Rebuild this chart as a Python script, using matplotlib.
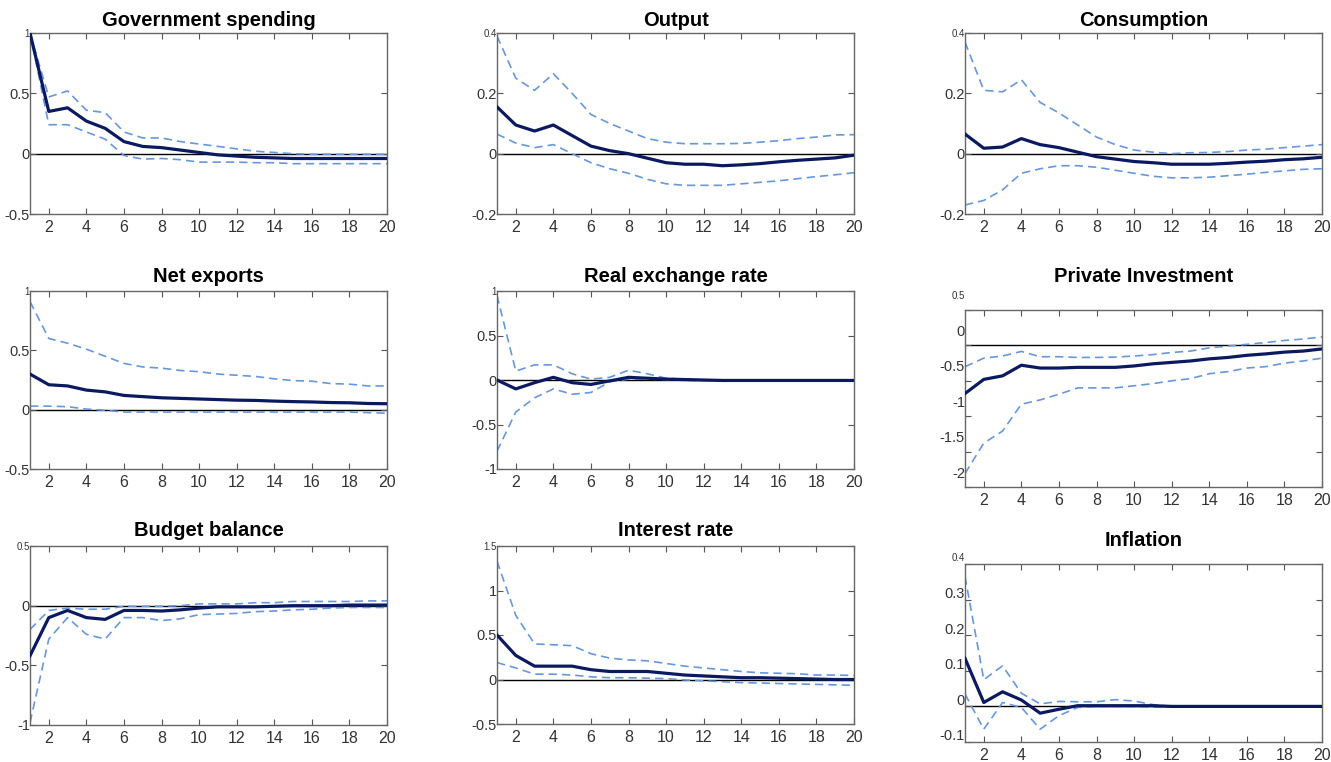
import numpy as np
import matplotlib.pyplot as plt
import matplotlib.transforms as mtransforms

plt.rcParams['font.family'] = ['Liberation Sans', 'DejaVu Sans']

horizons = np.arange(1, 21)

titles = ['Government spending', 'Output', 'Consumption',
          'Net exports', 'Real exchange rate', 'Private Investment',
          'Budget balance', 'Interest rate', 'Inflation']

# impulse responses: median, upper and lower bands
gov_mid = [1.0, 0.35, 0.38, 0.27, 0.21, 0.10, 0.06, 0.05, 0.03, 0.01,
           -0.01, -0.02, -0.03, -0.035, -0.04, -0.04, -0.04, -0.04, -0.04, -0.04]
gov_hi = [1.0, 0.47, 0.52, 0.36, 0.34, 0.18, 0.13, 0.13, 0.10, 0.08,
          0.06, 0.04, 0.02, 0.01, 0.0, -0.005, -0.005, -0.005, -0.005, -0.005]
gov_lo = [1.0, 0.24, 0.24, 0.18, 0.12, -0.015, -0.045, -0.04, -0.05, -0.07,
          -0.07, -0.07, -0.075, -0.075, -0.083, -0.083, -0.083, -0.083, -0.083, -0.083]

out_mid = [0.155, 0.095, 0.075, 0.095, 0.06, 0.025, 0.01, 0.0, -0.015, -0.03,
           -0.035, -0.035, -0.04, -0.037, -0.033, -0.027, -0.022, -0.018, -0.014, -0.005]
out_hi = [0.39, 0.25, 0.21, 0.265, 0.20, 0.13, 0.10, 0.075, 0.05, 0.038,
          0.033, 0.033, 0.033, 0.034, 0.038, 0.043, 0.05, 0.055, 0.062, 0.063]
out_lo = [0.065, 0.035, 0.02, 0.03, 0.0, -0.03, -0.05, -0.065, -0.085, -0.10,
          -0.105, -0.105, -0.105, -0.10, -0.095, -0.09, -0.083, -0.076, -0.07, -0.063]

cons_mid = [0.065, 0.018, 0.022, 0.05, 0.03, 0.02, 0.005, -0.01, -0.018, -0.026,
            -0.03, -0.035, -0.035, -0.035, -0.032, -0.028, -0.025, -0.02, -0.017, -0.012]
cons_hi = [0.37, 0.21, 0.205, 0.245, 0.17, 0.135, 0.095, 0.055, 0.03, 0.012,
           0.005, 0.0, 0.003, 0.004, 0.007, 0.012, 0.015, 0.02, 0.025, 0.03]
cons_lo = [-0.17, -0.155, -0.12, -0.065, -0.05, -0.04, -0.04, -0.045, -0.055, -0.065,
           -0.075, -0.08, -0.08, -0.078, -0.073, -0.068, -0.062, -0.057, -0.052, -0.05]

nx_mid = [0.30, 0.21, 0.20, 0.165, 0.15, 0.12, 0.11, 0.10, 0.095, 0.09,
          0.085, 0.08, 0.078, 0.072, 0.068, 0.065, 0.06, 0.058, 0.052, 0.05]
nx_hi = [0.91, 0.60, 0.56, 0.51, 0.45, 0.39, 0.36, 0.35, 0.33, 0.32,
         0.30, 0.29, 0.28, 0.26, 0.245, 0.24, 0.22, 0.215, 0.20, 0.20]
nx_lo = [0.03, 0.03, 0.025, 0.005, -0.005, -0.02, -0.02, -0.02, -0.02, -0.02,
         -0.02, -0.02, -0.02, -0.02, -0.02, -0.02, -0.02, -0.02, -0.025, -0.03]

rer_mid = [0.0, -0.10, -0.03, 0.03, -0.03, -0.05, -0.01, 0.03, 0.02, 0.01,
           0.005, 0.0, -0.005, -0.005, -0.005, -0.005, -0.005, -0.005, -0.005, -0.005]
rer_hi = [0.95, 0.10, 0.17, 0.17, 0.07, 0.01, 0.03, 0.11, 0.07, 0.02,
          0.01, 0.0, 0.0, 0.0, 0.0, 0.0, 0.0, 0.0, 0.0, 0.0]
rer_lo = [-0.80, -0.36, -0.20, -0.10, -0.16, -0.14, -0.02, 0.01, 0.01, 0.005,
          -0.005, -0.005, -0.005, -0.005, -0.005, -0.005, -0.005, -0.005, -0.005, -0.005]

inv_mid = [-0.68, -0.48, -0.43, -0.28, -0.32, -0.32, -0.31, -0.31, -0.31, -0.29,
           -0.26, -0.24, -0.22, -0.19, -0.17, -0.14, -0.12, -0.095, -0.08, -0.05]
inv_hi = [-0.30, -0.18, -0.15, -0.085, -0.16, -0.16, -0.17, -0.17, -0.165, -0.15,
          -0.13, -0.10, -0.08, -0.035, -0.01, 0.015, 0.04, 0.07, 0.09, 0.12]
inv_lo = [-1.81, -1.38, -1.21, -0.83, -0.77, -0.69, -0.60, -0.60, -0.60, -0.57,
          -0.54, -0.50, -0.47, -0.40, -0.37, -0.32, -0.30, -0.25, -0.22, -0.18]

bb_mid = [-0.42, -0.10, -0.04, -0.10, -0.115, -0.04, -0.04, -0.045, -0.035, -0.02,
          -0.01, -0.01, -0.01, -0.005, 0.0, 0.0, 0.0, 0.005, 0.005, 0.005]
bb_hi = [-0.20, -0.04, -0.02, -0.03, -0.03, -0.005, -0.005, -0.005, 0.0, 0.015,
         0.015, 0.015, 0.025, 0.025, 0.035, 0.035, 0.035, 0.035, 0.04, 0.04]
bb_lo = [-0.98, -0.28, -0.10, -0.24, -0.28, -0.10, -0.10, -0.125, -0.11, -0.075,
         -0.07, -0.065, -0.05, -0.045, -0.035, -0.03, -0.02, -0.015, -0.015, -0.015]

ir_mid = [0.50, 0.27, 0.15, 0.15, 0.15, 0.11, 0.09, 0.09, 0.09, 0.07,
          0.05, 0.04, 0.03, 0.02, 0.02, 0.015, 0.01, 0.005, 0.0, 0.0]
ir_hi = [1.33, 0.72, 0.40, 0.39, 0.38, 0.29, 0.24, 0.22, 0.21, 0.18,
         0.15, 0.13, 0.11, 0.09, 0.075, 0.07, 0.065, 0.05, 0.05, 0.045]
ir_lo = [0.19, 0.13, 0.06, 0.06, 0.05, 0.03, 0.02, 0.02, 0.015, 0.01,
         -0.005, -0.015, -0.025, -0.035, -0.04, -0.045, -0.05, -0.055, -0.06, -0.065]

inf_mid = [0.135, 0.011, 0.041, 0.018, -0.019, -0.008, 0.002, 0.002, 0.002, 0.002,
           0.002, 0.0, 0.0, 0.0, 0.0, 0.0, 0.0, 0.0, 0.0, 0.0]
inf_hi = [0.365, 0.075, 0.114, 0.037, 0.007, 0.014, 0.013, 0.013, 0.019, 0.015,
          0.005, 0.0, 0.0, 0.0, 0.0, 0.0, 0.0, 0.0, 0.0, 0.0]
inf_lo = [0.035, -0.064, 0.011, -0.003, -0.064, -0.026, -0.003, 0.0, 0.0, 0.0,
          -0.002, -0.002, -0.002, -0.002, -0.002, -0.002, -0.002, -0.002, -0.002, -0.002]

mids = [gov_mid, out_mid, cons_mid, nx_mid, rer_mid, inv_mid, bb_mid, ir_mid, inf_mid]
highs = [gov_hi, out_hi, cons_hi, nx_hi, rer_hi, inv_hi, bb_hi, ir_hi, inf_hi]
lows = [gov_lo, out_lo, cons_lo, nx_lo, rer_lo, inv_lo, bb_lo, ir_lo, inf_lo]

ylims = [(-0.5, 1), (-0.2, 0.4), (-0.2, 0.4),
         (-0.5, 1), (-1, 1), (-2, 0.5),
         (-1, 0.5), (-0.5, 1.5), (-0.1, 0.4)]
yticks = [[-0.5, 0, 0.5, 1], [-0.2, 0, 0.2, 0.4], [-0.2, 0, 0.2, 0.4],
          [-0.5, 0, 0.5, 1], [-1, -0.5, 0, 0.5, 1], [-2, -1.5, -1, -0.5, 0, 0.5],
          [-1, -0.5, 0, 0.5], [-0.5, 0, 0.5, 1, 1.5], [-0.1, 0, 0.1, 0.2, 0.3, 0.4]]

# axes boxes in pixels: left, top, right, bottom
W, H = 1331, 762
boxes = [(30, 33, 387, 214), (497, 33, 854, 214), (965, 33, 1322, 214),
         (30, 291, 387, 469), (497, 291, 854, 469), (965, 310, 1322, 487),
         (30, 546, 387, 725), (497, 546, 854, 724), (965, 564, 1322, 742)]
label_shift = [0, 0, 0, 0, 0, 15, 0, 0, 7]
title_gap = [7, 7, 7, 9, 9, 28, 10, 10, 18]

fig = plt.figure(figsize=(W / 100, H / 100), dpi=100)

for i in range(9):
    l, t, r, b = boxes[i]
    ax = fig.add_axes([l / W, 1 - b / H, (r - l) / W, (b - t) / H])
    ax.axhline(0, color='black', lw=1.0, zorder=1)
    ax.plot(horizons, highs[i], color='#6797dd', lw=1.2, ls=(0, (5, 3)), zorder=2)
    ax.plot(horizons, lows[i], color='#6797dd', lw=1.2, ls=(0, (5, 3)), zorder=2)
    ax.plot(horizons, mids[i], color='#0b1a60', lw=2.3, zorder=3)
    ax.set_xlim(1, 20)
    ax.set_ylim(*ylims[i])
    ax.set_xticks(range(2, 21, 2))
    ax.set_yticks(yticks[i])
    ax.set_yticklabels(['%g' % v for v in yticks[i]])
    ax.tick_params(direction='in', top=True, right=True, length=4, width=0.8,
                   colors='#555555', labelcolor='#333333')
    ax.tick_params(axis='y', pad=0, labelsize=10.5)
    ax.tick_params(axis='x', pad=4, labelsize=11.5)
    for s in ax.spines.values():
        s.set_color('#666666')
        s.set_linewidth(1.0)
    labels = ax.get_yticklabels()
    labels[-1].set_fontsize(7)
    if label_shift[i]:
        off = mtransforms.ScaledTranslation(0, label_shift[i] / 100, fig.dpi_scale_trans)
        for lab in labels:
            lab.set_transform(lab.get_transform() + off)
    ax.set_title(titles[i], fontsize=14.5, fontweight='bold', pad=title_gap[i] * 0.72)

fig.savefig('out.png', dpi=100)
